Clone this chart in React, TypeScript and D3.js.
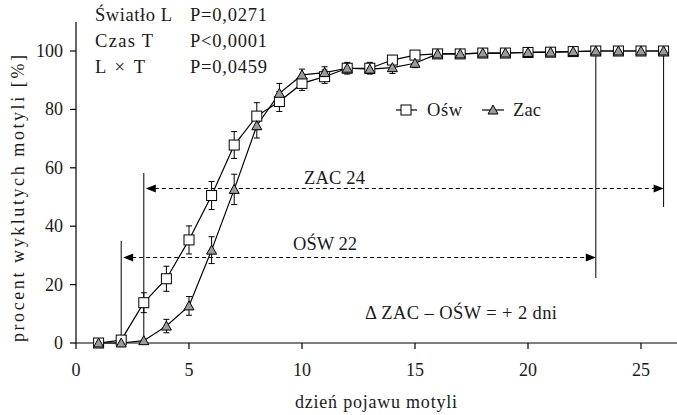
import React from "react";
import * as d3 from "d3";

const days = [1,2,3,4,5,6,7,8,9,10,11,12,13,14,15,16,17,18,19,20,21,22,23,24,25,26];
const oswValues = [0,1,13.8,22,35.3,50.5,67.8,77.7,82.7,88.9,91.2,94.1,94.1,96.9,98.6,99,99,99.3,99.3,99.5,99.6,99.8,100,100,100,100];
const oswErrors = [0,1,3.4,4.3,4.8,4.8,4.6,4.6,3.4,2.4,2.3,2,2,1.5,1,0.5,0.5,0.5,0.3,0.3,0.3,0.2,0,0,0,0];
const zacValues = [0,0,0.8,5.8,12.7,31.8,52.6,74.4,85.5,91.8,92.6,94.1,93.8,94.3,95.8,99,99,99.3,99.3,99.5,99.6,99.8,100,100,100,100];
const zacErrors = [0,0,0.5,2.3,3.2,4.6,5.2,4.2,3.4,2,2,1.5,1.5,2,1.5,0.5,0.5,0.5,0.3,0.3,0.3,0.2,0,0,0,0];
const xTicks = [0,5,10,15,20,25];
const yTicks = [0,20,40,60,80,100];
const statsLabels = ["Światło L", "Czas T", "L × T"];
const statsValues = ["P=0,0271", "P<0,0001", "P=0,0459"];
const statsLabelLen = [77, 58, 50];

const FONT = "Liberation Serif, DejaVu Serif, serif";

export default function App() {
  const W = 677, H = 415;
  const x = d3.scaleLinear().domain([0, 25]).range([76, 641]);
  const y = d3.scaleLinear().domain([0, 100]).range([343, 51]);
  const line = d3.line<number>().x((_, i) => x(days[i])).y((v) => y(v));
  const oswLine = line(oswValues) || "";
  const zacLine = line(zacValues) || "";
  const tri = (cx: number, cy: number, s = 5) =>
    `M${cx},${cy - s} L${cx + s},${cy + s * 0.8} L${cx - s},${cy + s * 0.8} Z`;

  const errBars = (vals: number[], errs: number[], key: string) =>
    vals.map((v, i) => {
      const e = errs[i];
      if (e < 0.8) return null;
      const cx = x(days[i]);
      return (
        <g key={key + i} stroke="#000" strokeWidth={1}>
          <line x1={cx} x2={cx} y1={y(v + e)} y2={y(v - e)} />
          <line x1={cx - 3} x2={cx + 3} y1={y(v + e)} y2={y(v + e)} />
          <line x1={cx - 3} x2={cx + 3} y1={y(v - e)} y2={y(v - e)} />
        </g>
      );
    });

  const arrowL = (xTip: number, yy: number) =>
    `M${xTip},${yy} L${xTip + 10},${yy - 4} L${xTip + 10},${yy + 4} Z`;
  const arrowR = (xTip: number, yy: number) =>
    `M${xTip},${yy} L${xTip - 10},${yy - 4} L${xTip - 10},${yy + 4} Z`;

  const zacY = 188.5;
  const oswY = 257.5;
  const ts = { fontFamily: FONT };
  const TC = "#1a1a1a";

  return (
    <svg width={W} height={H} style={{ position: "absolute", left: 0, top: 0, background: "#fff", fontFamily: FONT }}>
      <rect width={W} height={H} fill="#fff" />
      {/* axes */}
      <line x1={76} x2={677} y1={343} y2={343} stroke="#000" strokeWidth={1.2} />
      <line x1={76} x2={76} y1={22} y2={343} stroke="#000" strokeWidth={1.2} />
      {xTicks.map((t) => (
        <g key={"xt" + t}>
          <line x1={x(t)} x2={x(t)} y1={343} y2={349} stroke="#000" strokeWidth={1.2} />
          <text style={ts} x={x(t)} y={376} fontSize={18} textAnchor="middle" fill={TC}>{t}</text>
        </g>
      ))}
      {yTicks.map((t) => (
        <g key={"yt" + t}>
          <line x1={70} x2={76} y1={y(t)} y2={y(t)} stroke="#000" strokeWidth={1.2} />
          <text style={ts} x={63} y={y(t) + 6} fontSize={18} textAnchor="end" fill={TC}>{t}</text>
        </g>
      ))}
      <text style={ts} x={295} y={408} fontSize={18} textLength={162} fill={TC}>dzień pojawu motyli</text>
      <text style={ts} transform="translate(23.5,342) rotate(-90)" fontSize={18} textLength={287} fill={TC}>procent wyklutych motyli [%]</text>

      {/* stats */}
      {statsLabels.map((s, i) => (
        <g key={"st" + i}>
          <text style={ts} x={95} y={20.5 + i * 26} fontSize={18.5} textLength={statsLabelLen[i]} fill={TC}>{s}</text>
          <text style={ts} x={190} y={20.5 + i * 26} fontSize={18.5} textLength={77} fill={TC}>{statsValues[i]}</text>
        </g>
      ))}

      {/* vertical reference lines */}
      <line x1={x(2)} x2={x(2)} y1={241} y2={343} stroke="#000" strokeWidth={1} />
      <line x1={x(3)} x2={x(3)} y1={173} y2={343} stroke="#000" strokeWidth={1} />
      <line x1={x(23)} x2={x(23)} y1={y(100)} y2={278} stroke="#000" strokeWidth={1} />
      <line x1={x(26)} x2={x(26)} y1={y(100)} y2={207} stroke="#000" strokeWidth={1} />

      {/* dashed arrows */}
      <line x1={x(3) + 4} x2={x(26) - 6} y1={zacY} y2={zacY} stroke="#000" strokeWidth={1} strokeDasharray="4,3" />
      <path d={arrowL(x(3) + 2, zacY)} fill="#000" />
      <path d={arrowR(x(26), zacY)} fill="#000" />
      <line x1={x(2) + 4} x2={x(23) - 6} y1={oswY} y2={oswY} stroke="#000" strokeWidth={1} strokeDasharray="4,3" />
      <path d={arrowL(x(2) + 2, oswY)} fill="#000" />
      <path d={arrowR(x(23), oswY)} fill="#000" />
      <text style={ts} x={304} y={184} fontSize={18.5} textLength={61} fill={TC}>ZAC 24</text>
      <text style={ts} x={293} y={250} fontSize={18.5} textLength={64} fill={TC}>OŚW 22</text>
      <text style={ts} x={365} y={319} fontSize={18.5} textLength={192} fill={TC}>Δ ZAC – OŚW = + 2 dni</text>

      {/* series */}
      {errBars(oswValues, oswErrors, "oe")}
      {errBars(zacValues, zacErrors, "ze")}
      <path d={oswLine} fill="none" stroke="#000" strokeWidth={1.2} />
      <path d={zacLine} fill="none" stroke="#000" strokeWidth={1.2} />
      {oswValues.map((v, i) => (
        <rect key={"os" + i} x={x(days[i]) - 5} y={y(v) - 5} width={10} height={10} fill="#fff" stroke="#000" strokeWidth={1} />
      ))}
      {zacValues.map((v, i) => (
        <path key={"zt" + i} d={tri(x(days[i]), y(v))} fill="#9a9a9a" stroke="#000" strokeWidth={1} />
      ))}

      {/* legend */}
      <line x1={396} x2={417} y1={110} y2={110} stroke="#000" strokeWidth={1.2} />
      <rect x={401} y={105} width={10} height={10} fill="#fff" stroke="#000" />
      <text style={ts} x={427} y={116} fontSize={18.5} textLength={35} fill={TC}>Ośw</text>
      <line x1={482} x2={504} y1={110} y2={110} stroke="#000" strokeWidth={1.2} />
      <path d={tri(493, 110)} fill="#9a9a9a" stroke="#000" />
      <text style={ts} x={513} y={116} fontSize={18.5} textLength={28} fill={TC}>Zac</text>
    </svg>
  );
}
